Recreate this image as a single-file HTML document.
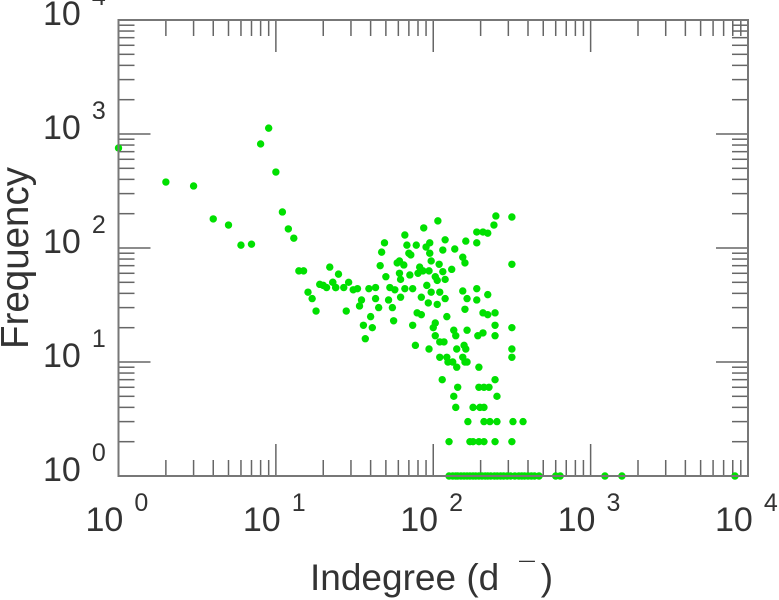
<!DOCTYPE html>
<html><head><meta charset="utf-8"><style>
html,body{margin:0;padding:0;background:#fff;}
svg{display:block;font-family:"Liberation Sans",sans-serif;}
</style></head><body>
<svg id="chart" width="779" height="600" viewBox="0 0 779 600" xmlns="http://www.w3.org/2000/svg">
<g id="ticks"></g>
<g id="labels"></g>
<g id="points"></g>
<rect x="118.5" y="20" width="629.5" height="456" fill="none" stroke="#777" stroke-width="2"/>
<text transform="translate(28,258) rotate(-90)" text-anchor="middle" font-size="38.5" fill="#333">Frequency</text>
<text x="310" y="590" font-size="37" fill="#333">Indegree (d<tspan dx="20" dy="-8" font-size="28">¯</tspan><tspan dx="6" dy="8">)</tspan></text>
</svg>
<script>
const xDecades = [0, 1, 2, 3, 4];
const yDecades = [0, 1, 2, 3, 4];
const degree = [1,2,3,4,5,6,7,8,9,10,11,12,13,14,15,16,17,18,22,19,20,21,23,24,
250,316,243,189,207,222,189,161,316,107,87,66,119,49,68,78,95,90,115,137,47,70,95,154,159,131,46,61,59,65,72,97,109,82,86,80,94,71,61,50,62,103,106,115,119,25,23,29,24,27,31,33,39,43,53,57,66,74,91,97,110,154,189,35,43,52,62,84,93,106,119,164,189,222,28,34,45,55,159,79,84,207,222,247,40,56,122,36,41,74,103,100,135,139,164,247,316,37,103,110,117,192,207,247,77,94,141,157,161,316,316,110,122,124,133,141,154,159,164,195,114,247,143,195,210,226,135,254,139,179,198,210,166,210,229,254,321,372,126,171,179,195,210,247,316,
126,133,139,143,150,157,164,171,179,186,195,204,214,222,232,245,255,268,280,295,310,330,350,365,380,400,420,440,470,600,640,1233,1580,8260];
const freq = [754,379,350,180,159,106,108,818,1126,464,207,147,122,63,63,41,36,28,68,48,47,45,50,45,
191,187,159,138,138,135,111,115,72,173,150,130,118,111,106,106,111,102,96,98,92,90,90,83,74,65,70,77,74,71,87,77,72,68,63,60,63,58,60,56,53,56,52,62,53,59,50,50,45,45,43,44,44,45,45,43,44,44,47,41,41,42,44,35,36,35,37,37,33,32,36,36,35,39,28,31,30,30,29,27,26,27,26,27,25,23,25,21,20,21,22,20,19,17,19,21,20,16,17,15,15,17,18,17,14,13,13,14,13,13,11,11,11,10,10,9,11,10,10,9,7,7,6,6,6,6,5,5,4,4,4,4,3,3,3,3,3,3,2,2,2,2,2,2,2,
1,1,1,1,1,1,1,1,1,1,1,1,1,1,1,1,1,1,1,1,1,1,1,1,1,1,1,1,1,1,1,1,1,1];

const X0=118.5, X1=748, Y0=476, Y1=20;
function xs(v){return X0+(Math.log10(v)-0)/4*(X1-X0);}
function ys(v){return Y0-(Math.log10(v)-0)/4*(Y0-Y1);}
const NS="http://www.w3.org/2000/svg";
const tg=document.getElementById('ticks'), lg=document.getElementById('labels'), pg=document.getElementById('points');
function line(x1,y1,x2,y2,name){
  const l=document.createElementNS(NS,'line');
  l.setAttribute('x1',x1);l.setAttribute('y1',y1);l.setAttribute('x2',x2);l.setAttribute('y2',y2);
  l.setAttribute('stroke','#666');l.setAttribute('stroke-width','1.5');
  
  
  tg.appendChild(l);
}
for(let d=0; d<4; d++){
  for(let m=1; m<=9; m++){
    const v=Math.pow(10,d)*m, len=(m===1)?32:16;
    const x=xs(v), y=ys(v);
    line(x,Y0,x,Y0-len,'x-tick');
    line(x,Y1,x,Y1+len,'x-tick-top');
    line(X0,y,X0+len,y,'y-tick');
    line(X1,y,X1-len,y,'y-tick-right');
  }
}
function label(x,y,exp,name){
  const t=document.createElementNS(NS,'text');
  t.setAttribute('x',x);t.setAttribute('y',y);
  t.setAttribute('font-size','34');t.setAttribute('fill','#333');
  
  
  t.textContent='10';
  const s=document.createElementNS(NS,'tspan');
  s.setAttribute('dx','11');s.setAttribute('dy','-20');s.setAttribute('font-size','25');
  s.textContent=exp;
  t.appendChild(s);
  lg.appendChild(t);
}
xDecades.forEach(d=>{ label(xs(Math.pow(10,d))-33, 531, String(d), 'x-tick-label'); });
yDecades.forEach(d=>{ label(43, ys(Math.pow(10,d))+5, String(d), 'y-tick-label'); });
for(let i=0;i<degree.length;i++){
  const c=document.createElementNS(NS,'circle');
  c.setAttribute('cx',xs(degree[i]));c.setAttribute('cy',ys(freq[i]));
  c.setAttribute('r','3.7');c.setAttribute('fill','#00e000');
  
  
  pg.appendChild(c);
}
</script>
</body></html>
